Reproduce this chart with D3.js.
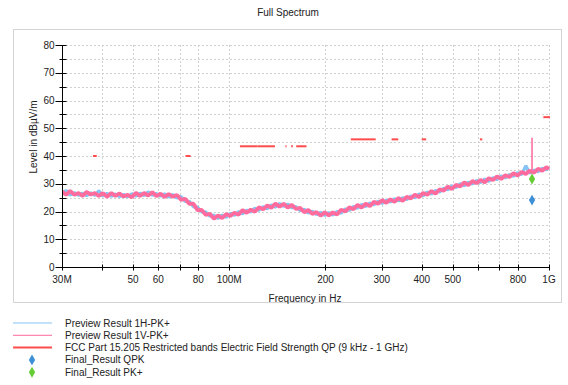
<!DOCTYPE html>
<html>
<head>
<meta charset="utf-8">
<script src="https://cdn.jsdelivr.net/npm/d3@7"></script>
<style>
  body { margin: 0; background: #fff; }
  svg { display: block; font-family: "Liberation Sans", Arial, sans-serif; }
</style>
</head>
<body>
<svg id="chart" width="568" height="385"></svg>
<script>
// sweep frequencies (MHz) shared by both preview traces
const freqMHz = [30, 30.9, 31.8, 32.8, 33.8, 34.8, 35.8, 36.9, 38.0, 39.1,
  40.3, 41.5, 42.8, 44.1, 45.4, 46.7, 48.1, 49.6, 51.1, 52.6,
  54.2, 55.8, 57.5, 59.2, 61.0, 62.8, 64.7, 66.6, 68.6, 70.7,
  72.8, 75.0, 77.3, 79.6, 82.0, 84.4, 86.9, 89.6, 92.2, 95.0,
  97.9, 100.8, 103.8, 106.9, 110.1, 113.4, 116.8, 120.3, 123.9, 127.7,
  131.5, 135.4, 139.5, 143.7, 148.0, 152.4, 157.0, 161.7, 166.6, 171.6,
  176.7, 182.0, 187.5, 193.1, 198.9, 204.9, 211.0, 217.3, 223.8, 230.6,
  237.5, 244.6, 251.9, 259.5, 267.3, 275.3, 283.5, 292.0, 300.8, 309.8,
  319.1, 328.7, 338.6, 348.7, 359.2, 369.9, 381.0, 392.5, 404.2, 416.4,
  428.8, 441.7, 455.0, 468.6, 482.7, 497.1, 512.0, 527.4, 543.2, 559.5,
  576.3, 593.6, 611.4, 629.7, 648.6, 668.1, 688.1, 708.8, 730.0, 751.9,
  774.5, 797.7, 821.7, 846.3, 871.7, 884, 885, 886, 897.9, 924.8,
  952.6, 981.1, 1000];

// Preview Result 1H-PK+ (dBµV/m)
const levelH = [26.3, 27.6, 25.9, 26.8, 25.8, 26.6, 25.7, 26.7, 25.8, 27.5,
  25.6, 26.5, 25.5, 26.3, 25.4, 26.2, 25.3, 26.4, 25.5, 26.6,
  25.7, 27.1, 25.8, 26.5, 25.5, 26.4, 25.2, 26.1, 24.9, 25.4,
  23.6, 23.7, 21.7, 21.6, 19.8, 19.9, 18.3, 18.7, 17.5, 18.7,
  17.9, 19.3, 18.6, 19.9, 19.2, 20.5, 19.8, 21.2, 20.4, 21.7,
  21.0, 22.4, 21.6, 22.9, 21.8, 22.7, 21.3, 21.8, 20.3, 20.8,
  19.4, 20.1, 18.9, 19.7, 18.6, 19.6, 18.7, 20.0, 19.4, 20.9,
  20.4, 21.8, 21.2, 22.5, 21.8, 23.1, 22.4, 23.7, 22.9, 24.1,
  23.4, 24.6, 23.8, 25.0, 24.3, 25.6, 24.9, 26.3, 25.7, 27.0,
  26.3, 27.6, 27.0, 28.4, 27.8, 29.2, 28.6, 30.0, 29.3, 30.6,
  29.9, 31.2, 30.4, 31.7, 30.9, 32.2, 31.5, 32.8, 32.1, 33.3,
  32.7, 34.0, 33.3, 36.5, 33.7, 34.6, 34.8, 33.9, 35.0, 34.3,
  35.6, 35.0, 36.0];

// Preview Result 1V-PK+ (dBµV/m)
const levelV = [27.2, 26.0, 27.4, 26.0, 26.7, 25.6, 27.1, 26.1, 26.7, 25.6,
  26.6, 25.3, 26.7, 25.6, 26.5, 25.4, 26.0, 25.1, 26.8, 25.6,
  26.7, 25.7, 27.0, 25.5, 26.4, 25.2, 26.3, 25.3, 26.0, 24.2,
  24.6, 22.8, 22.8, 20.5, 20.6, 18.8, 19.2, 17.4, 18.6, 17.6,
  19.1, 18.4, 19.6, 18.8, 20.5, 19.5, 20.7, 19.9, 21.5, 20.8,
  22.2, 21.3, 22.9, 21.7, 22.8, 21.4, 22.4, 20.9, 21.3, 19.7,
  20.6, 19.1, 19.8, 18.5, 19.7, 18.6, 19.7, 18.9, 20.6, 20.0,
  21.5, 20.8, 22.4, 21.4, 22.8, 21.9, 23.5, 22.8, 24.1, 23.1,
  24.4, 23.5, 24.9, 23.8, 25.3, 24.7, 26.1, 25.2, 26.7, 26.0,
  27.4, 26.4, 28.0, 27.5, 29.0, 28.1, 29.6, 29.0, 30.5, 29.5,
  31.0, 30.2, 31.4, 30.5, 32.0, 31.3, 32.7, 31.7, 33.1, 32.4,
  33.8, 32.9, 34.3, 33.5, 34.8, 34.0, 46.6, 34.3, 34.0, 35.4,
  34.7, 36.0, 35.3];

// FCC Part 15.205 restricted bands (MHz) and limit (dBµV/m)
const bandStart = [37.5, 73, 74.8, 108, 123, 149.9, 156.52, 156.7, 162.0125, 167.72, 240, 322, 399.9, 608, 960];
const bandStop  = [38.25, 74.6, 75.2, 121.94, 138, 150.05, 156.525, 156.9, 167.17, 173.2, 285, 335.4, 410, 614, 1240];
const bandLimit = [40, 40, 40, 43.5, 43.5, 43.5, 43.5, 43.5, 43.5, 43.5, 46, 46, 46, 46, 54];

// final measurements
const finalFreq = [885];
const finalQPK = [24.1];
const finalPK = [31.7];

const xTicks = [30, 40, 50, 60, 70, 80, 100, 200, 300, 400, 500, 600, 700, 800, 1000];
const xTickLabels = { 30: '30M', 50: '50', 60: '60', 80: '80', 100: '100M', 200: '200', 300: '300', 400: '400', 500: '500', 800: '800', 1000: '1G' };
const yMajor = [0, 10, 20, 30, 40, 50, 60, 70, 80];
const yMinor = [5, 15, 25, 35, 45, 55, 65, 75];

const colH = '#86c3f5', colV = '#ff6b9c', colLimit = '#ff4d4d';
const colQPK = '#3d8fd6', colPK = '#66cc33';

const svg = d3.select('#chart');
const plotL = 62, plotR = 549, plotT = 45, plotB = 267;

const x = d3.scaleLog().domain([30, 1000]).range([plotL, plotR]);
const y = d3.scaleLinear().domain([0, 80]).range([plotB, plotT]);

// outer frame
svg.append('rect').attr('x', 13.5).attr('y', 29.5).attr('width', 548).attr('height', 273)
  .attr('fill', 'none').attr('stroke', '#d4d4d4');

svg.append('text').attr('x', 288).attr('y', 16).attr('text-anchor', 'middle')
  .attr('font-size', 10).attr('fill', '#222').text('Full Spectrum');

// grid
const grid = svg.append('g').attr('stroke', '#d0d0d0').attr('stroke-dasharray', '2,2').attr('stroke-width', 1);
grid.selectAll('.hg').data(yMajor.concat(yMinor).filter(d => d > 0)).enter().append('line')
  .attr('x1', plotL).attr('x2', plotR).attr('y1', d => Math.round(y(d)) + 0.5).attr('y2', d => Math.round(y(d)) + 0.5);
grid.selectAll('.vg').data(xTicks.filter(d => d > 30)).enter().append('line')
  .attr('y1', plotT).attr('y2', plotB).attr('x1', d => Math.round(x(d)) + 0.5).attr('x2', d => Math.round(x(d)) + 0.5);

// clip for data
svg.append('clipPath').attr('id', 'plot').append('rect')
  .attr('x', plotL).attr('y', plotT - 2).attr('width', plotR - plotL + 1).attr('height', plotB - plotT + 2);
const plot = svg.append('g').attr('clip-path', 'url(#plot)');

// dense sweep drawn as a thick jagged stroke; narrow spikes drawn thin on top
const ptsH = freqMHz.map((f, i) => [f, levelH[i]]);
const ptsV = freqMHz.map((f, i) => [f, levelV[i]]);
const isSpike = (d, i, arr) => i > 0 && i < arr.length - 1 && d[1] - Math.max(arr[i - 1][1], arr[i + 1][1]) > 5;
const line = d3.line().x(d => x(d[0])).y(d => y(d[1]));
const bandLine = d3.line().defined((d, i) => !isSpike(d, i, ptsV)).x(d => x(d[0])).y(d => y(d[1]));

plot.append('path').datum(ptsH)
  .attr('d', line).attr('fill', 'none').attr('stroke', colH).attr('stroke-width', 3.2).attr('stroke-linejoin', 'bevel');
plot.append('path').datum(ptsV)
  .attr('d', bandLine).attr('fill', 'none').attr('stroke', colV).attr('stroke-width', 3.8).attr('stroke-linejoin', 'bevel');
plot.append('path').datum(ptsV)
  .attr('d', line).attr('fill', 'none').attr('stroke', colV).attr('stroke-width', 1);

// limit segments
plot.selectAll('.lim').data(bandStart.map((s, i) => [s, bandStop[i], bandLimit[i]])).enter().append('line')
  .attr('x1', d => x(d[0])).attr('x2', d => x(Math.min(d[1], 1000)) + 1)
  .attr('y1', d => y(d[2])).attr('y2', d => y(d[2]))
  .attr('stroke', colLimit).attr('stroke-width', 2);

// final result diamonds
const diamond = d3.symbol().type(d3.symbolDiamond).size(34);
svg.selectAll('.qpk').data(finalFreq.map((f, i) => [f, finalQPK[i]])).enter().append('path')
  .attr('d', diamond).attr('transform', d => `translate(${x(d[0])},${y(d[1])})`).attr('fill', colQPK);
svg.selectAll('.pk').data(finalFreq.map((f, i) => [f, finalPK[i]])).enter().append('path')
  .attr('d', diamond).attr('transform', d => `translate(${x(d[0])},${y(d[1])})`).attr('fill', colPK);

// y axis
const yAxis = svg.append('g').attr('transform', `translate(${plotL + 0.5},0)`).attr('font-size', 10);
yAxis.append('line').attr('y1', plotT).attr('y2', plotB).attr('stroke', '#000');
yAxis.selectAll('.ymaj').data(yMajor).enter().append('line')
  .attr('x1', -7).attr('x2', 4).attr('y1', d => Math.round(y(d)) + 0.5).attr('y2', d => Math.round(y(d)) + 0.5).attr('stroke', '#000');
yAxis.selectAll('.ymin').data(yMinor).enter().append('line')
  .attr('x1', -3).attr('x2', 4).attr('y1', d => Math.round(y(d)) + 0.5).attr('y2', d => Math.round(y(d)) + 0.5).attr('stroke', '#000');
yAxis.selectAll('.ylab').data(yMajor).enter().append('text')
  .attr('x', -8).attr('y', d => y(d)).attr('dy', '0.35em').attr('text-anchor', 'end').attr('fill', '#222').text(d => d);

// x axis
const xAxis = svg.append('g').attr('transform', `translate(0,${plotB + 0.5})`).attr('font-size', 10);
xAxis.append('line').attr('x1', plotL).attr('x2', plotR).attr('stroke', '#000');
xAxis.selectAll('.xt').data(xTicks).enter().append('line')
  .attr('x1', d => Math.round(x(d)) + 0.5).attr('x2', d => Math.round(x(d)) + 0.5).attr('y1', -3).attr('y2', 3).attr('stroke', '#000');
xAxis.selectAll('.xl').data(xTicks.filter(d => xTickLabels[d])).enter().append('text')
  .attr('x', d => x(d)).attr('y', 15).attr('text-anchor', 'middle').attr('fill', '#222').text(d => xTickLabels[d]);

svg.append('text').attr('x', 305).attr('y', 302).attr('text-anchor', 'middle')
  .attr('font-size', 10).attr('fill', '#222').text('Frequency in Hz');
svg.append('text').attr('transform', 'translate(37,137) rotate(-90)').attr('text-anchor', 'middle')
  .attr('font-size', 10).attr('fill', '#222').text('Level in dBµV/m');

// legend
const legend = [
  { name: 'Preview Result 1H-PK+', kind: 'line', color: colH, w: 1 },
  { name: 'Preview Result 1V-PK+', kind: 'line', color: colV, w: 1 },
  { name: 'FCC Part 15.205 Restricted bands Electric Field Strength QP (9 kHz - 1 GHz)', kind: 'line', color: colLimit, w: 2 },
  { name: 'Final_Result QPK', kind: 'dot', color: colQPK },
  { name: 'Final_Result PK+', kind: 'dot', color: colPK }
];
const lg = svg.append('g').attr('font-size', 10);
legend.forEach((d, i) => {
  const yy = 323 + i * 12.3;
  if (d.kind === 'line') {
    lg.append('line').attr('x1', 13).attr('x2', 52).attr('y1', yy).attr('y2', yy)
      .attr('stroke', d.color).attr('stroke-width', d.w);
  } else {
    lg.append('path').attr('d', diamond).attr('transform', `translate(32,${yy})`).attr('fill', d.color);
  }
  lg.append('text').attr('x', 65).attr('y', yy).attr('dy', '0.35em').attr('fill', '#222').text(d.name);
});
</script>
</body>
</html>
